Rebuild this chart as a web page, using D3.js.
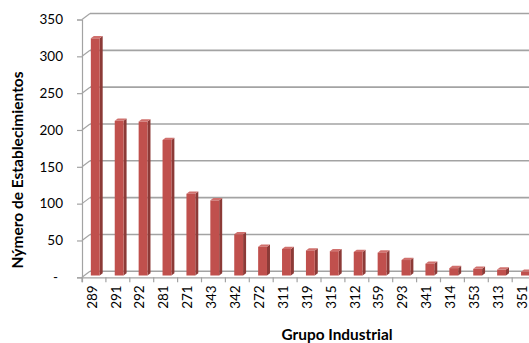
<!DOCTYPE html>
<html>
<head>
<meta charset="utf-8">
<script src="https://cdn.jsdelivr.net/npm/d3@7"></script>
<style>
  html, body { margin: 0; padding: 0; background: #fff; }
  svg { display: block; font-family: Lato, "Open Sans", sans-serif; }
</style>
</head>
<body>
<svg id="chart" width="529" height="343"></svg>
<script>
// Establishments per industrial group
const categories = ["289", "291", "292", "281", "271", "343", "342", "272", "311", "319",
                    "315", "312", "359", "293", "341", "314", "353", "313", "351"];
const values = [322, 210, 209, 184, 111, 102, 56, 39, 36, 34, 33, 32, 31, 21, 16, 10, 9, 8, 5];
const yTicks = [0, 50, 100, 150, 200, 250, 300, 350];
const yTickLabels = ["-", "50", "100", "150", "200", "250", "300", "350"];
const yTitle = "Nýmero de Establecimientos";
const xTitle = "Grupo Industrial";

const W = 529, H = 343;
const svg = d3.select("#chart");

// front plane of the 3D box
const left = 82;
const band = 23.9;
const x = d3.scaleBand().domain(categories).range([left, left + band * categories.length]).padding(0);
const y = d3.scaleLinear().domain([0, 350]).range([277.3, 19.5]);

// depth of the floor / side wall
const depth = { dx: 8, dy: -6 };
// bars sit part-way into the depth
const barDepthFrac = 0.3;
const barDepth = { dx: 3, dy: -2.3 };

const grid = "#a3a3a3";

// back-wall gridlines and side-wall diagonals
yTicks.forEach(t => {
  const yf = y(t);
  svg.append("line")
    .attr("x1", left + depth.dx).attr("x2", W + 10)
    .attr("y1", yf + depth.dy).attr("y2", yf + depth.dy)
    .attr("stroke", grid).attr("stroke-width", 1.6);
  svg.append("line")
    .attr("x1", left).attr("y1", yf)
    .attr("x2", left + depth.dx).attr("y2", yf + depth.dy)
    .attr("stroke", grid).attr("stroke-width", 1.2);
});

// front value axis
const yAxis = d3.axisLeft(y).tickValues(yTicks).tickSize(5).tickPadding(14)
  .tickFormat((d, i) => yTickLabels[i]);
const gy = svg.append("g").attr("transform", `translate(${left},0)`).call(yAxis);
gy.select(".domain").attr("stroke", grid).attr("stroke-width", 1.2);
gy.selectAll(".tick line").attr("stroke", grid).attr("stroke-width", 1.2);
gy.selectAll(".tick text").attr("font-family", "Lato, sans-serif").attr("font-size", 13.5).attr("fill", "#000");
gy.selectAll(".tick text").filter(d => d === 0).attr("dx", -5);

// front category axis
const xAxis = d3.axisBottom(x).tickSize(5).tickPadding(6);
const gx = svg.append("g").attr("transform", `translate(0,${y(0)})`).call(xAxis);
gx.select(".domain").attr("stroke", grid).attr("stroke-width", 1.2);
gx.selectAll(".tick line")
  .attr("stroke", grid).attr("stroke-width", 1.2)
  .attr("transform", `translate(${-band / 2},0)`);
gx.selectAll(".tick text")
  .attr("font-family", "Lato, sans-serif").attr("font-size", 13.5).attr("fill", "#000")
  .attr("text-anchor", "end")
  .attr("dy", "0.35em")
  .attr("transform", "translate(-2,8) rotate(-90)")
  .attr("x", 0).attr("y", 0);

// columns
const bx = d => x(d) + band * 0.37;
const bw = band * 0.37;
const y0 = y(0) + depth.dy * barDepthFrac;
const yv = v => y(v) + depth.dy * barDepthFrac;

const bars = svg.append("g").selectAll("g").data(categories).join("g");
bars.append("path") // side face
  .attr("d", (d, i) => {
    const xr = bx(d) + bw, t = yv(values[i]);
    return `M${xr},${t}L${xr + barDepth.dx},${t + barDepth.dy}L${xr + barDepth.dx},${y0 + barDepth.dy}L${xr},${y0}Z`;
  })
  .attr("fill", "#8c3a37");
bars.append("path") // top face
  .attr("d", (d, i) => {
    const xl = bx(d), t = yv(values[i]);
    return `M${xl},${t}L${xl + bw},${t}L${xl + bw + barDepth.dx},${t + barDepth.dy}L${xl + barDepth.dx},${t + barDepth.dy}Z`;
  })
  .attr("fill", "#d0706d");
bars.append("rect") // front face
  .attr("x", d => bx(d))
  .attr("y", (d, i) => yv(values[i]))
  .attr("width", bw)
  .attr("height", (d, i) => y0 - yv(values[i]))
  .attr("fill", "#c0504d");

// axis titles
svg.append("text")
  .attr("transform", `translate(23,170) rotate(-90)`)
  .attr("text-anchor", "middle")
  .attr("font-family", "Lato, sans-serif").attr("font-weight", "bold").attr("font-size", 15.5)
  .text(yTitle);
svg.append("text")
  .attr("x", 337).attr("y", 340)
  .attr("text-anchor", "middle")
  .attr("font-family", "Lato, sans-serif").attr("font-weight", "bold").attr("font-size", 15.4)
  .text(xTitle);
</script>
</body>
</html>
